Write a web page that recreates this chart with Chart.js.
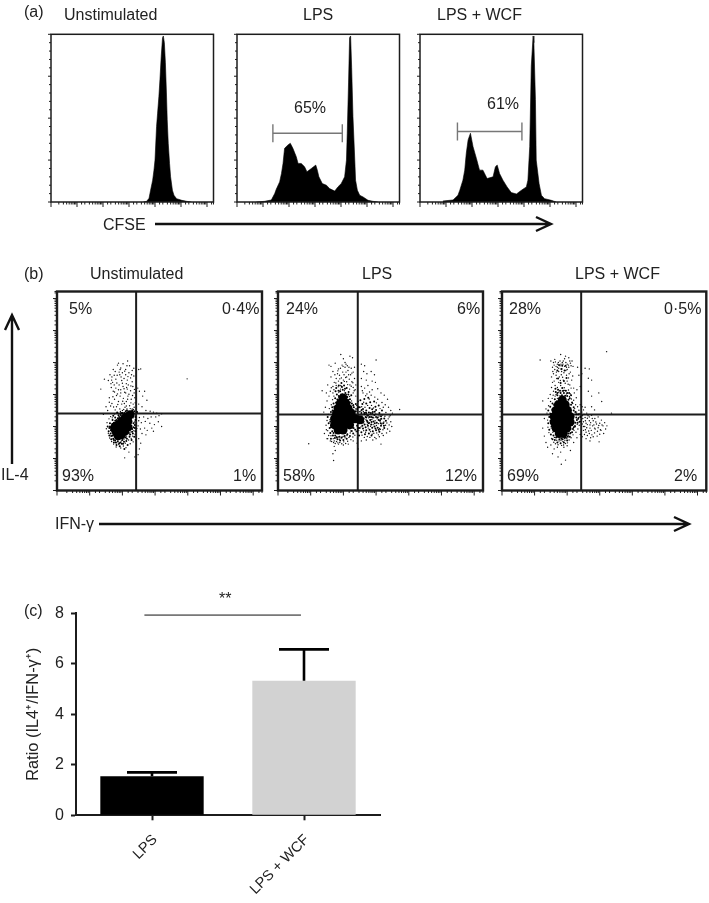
<!DOCTYPE html>
<html>
<head>
<meta charset="utf-8">
<title>CFSE, IL-4 / IFN-γ and ratio panels</title>
<script src="https://cdn.jsdelivr.net/npm/chart.js@4"></script>
<style>
    html, body { margin: 0; padding: 0; background: #fff; }
    #page { position: relative; width: 709px; height: 903px; overflow: hidden; font-family: "Liberation Sans", Arial, sans-serif; color: #222; }
    canvas { position: absolute; }
    svg { position: absolute; left: 0; top: 0; }
    .t { position: absolute; font-size: 16px; line-height: 18px; white-space: nowrap; }
</style>
</head>
<body>
<div id="page">
    <canvas id="histUnstim" width="176" height="180" style="left:43px;top:32px"></canvas>
    <canvas id="histLps" width="176" height="180" style="left:229.3px;top:32px"></canvas>
    <canvas id="histWcf" width="176" height="180" style="left:412.3px;top:32px"></canvas>
    <canvas id="dotUnstim" width="219" height="212" style="left:47.3px;top:289px"></canvas>
    <canvas id="dotLps" width="219" height="212" style="left:268.3px;top:289px"></canvas>
    <canvas id="dotWcf" width="217" height="212" style="left:491.7px;top:289px"></canvas>
    <canvas id="ratioBars" width="400" height="313" style="left:0;top:590px"></canvas>

    <svg width="709" height="903" fill="none" stroke="#111" stroke-width="2.4">
        <path d="M155 224H551M536 217L551 224L536 231"/>
        <path d="M12 464V316M5 330L12 315L19 330"/>
        <path d="M99 524H689M674 517L689 524L674 531"/>
    </svg>

    <div class="t" style="left:24px;top:3px">(a)</div>
    <div class="t" style="left:64px;top:6px">Unstimulated</div>
    <div class="t" style="left:303px;top:6px">LPS</div>
    <div class="t" style="left:437px;top:6px">LPS + WCF</div>
    <div class="t" style="left:294px;top:99px">65%</div>
    <div class="t" style="left:487px;top:95px">61%</div>
    <div class="t" style="left:103px;top:216px">CFSE</div>

    <div class="t" style="left:24px;top:265px">(b)</div>
    <div class="t" style="left:90px;top:265px">Unstimulated</div>
    <div class="t" style="left:362px;top:265px">LPS</div>
    <div class="t" style="left:575px;top:265px">LPS + WCF</div>
    <div class="t" style="left:69px;top:300px">5%</div>
    <div class="t" style="left:222px;top:300px">0·4%</div>
    <div class="t" style="left:62px;top:467px">93%</div>
    <div class="t" style="left:233px;top:467px">1%</div>
    <div class="t" style="left:286px;top:300px">24%</div>
    <div class="t" style="left:457px;top:300px">6%</div>
    <div class="t" style="left:283px;top:467px">58%</div>
    <div class="t" style="left:445px;top:467px">12%</div>
    <div class="t" style="left:509px;top:300px">28%</div>
    <div class="t" style="left:664px;top:300px">0·5%</div>
    <div class="t" style="left:507px;top:467px">69%</div>
    <div class="t" style="left:674px;top:467px">2%</div>
    <div class="t" style="left:1px;top:466px">IL-4</div>
    <div class="t" style="left:55px;top:515px">IFN-γ</div>

    <div class="t" style="left:24px;top:602px">(c)</div>
    <div class="t" style="left:219px;top:590px">**</div>
</div>

<script>
// CFSE histograms: channel position in log decades, height in % of tallest peak
const cfseUnstimDecade = [3.55, 3.68, 3.77, 3.83, 3.91, 3.96, 4.00, 4.06, 4.10, 4.15, 4.19, 4.24, 4.29, 4.32, 4.36, 4.40, 4.44, 4.47, 4.51, 4.56, 4.60, 4.67, 4.73, 4.83, 5.03, 5.22, 5.40];
const cfseUnstimCount = [0, 0.4, 2.2, 7, 13, 19, 25, 45, 53, 63, 73, 87, 98, 99, 95, 83, 65, 49, 35, 23, 15, 7, 4, 2, 1, 0.4, 0];

const cfseLpsDecade = [0.74, 1.06, 1.32, 1.45, 1.51, 1.64, 1.71, 1.77, 1.83, 1.96, 2.05, 2.15, 2.28, 2.35, 2.47, 2.60, 2.69, 2.86, 3.03, 3.09, 3.15, 3.28, 3.44, 3.56, 3.76, 3.88, 4.01, 4.14, 4.21, 4.24, 4.29, 4.33, 4.37, 4.41, 4.46, 4.53, 4.56, 4.63, 4.72, 4.85, 5.04, 5.23, 5.42];
const cfseLpsCount = [0, 0.4, 1.2, 5, 7.6, 12, 17, 23, 32, 34, 35, 32, 27, 23, 23, 21, 18, 20, 22, 19, 15, 11, 10, 8, 6.5, 9, 11, 15, 25, 41, 71, 98, 99, 80, 51, 25, 13, 7, 4, 3, 1, 0.4, 0];

const cfseWcfDecade = [0.88, 1.27, 1.46, 1.53, 1.65, 1.72, 1.78, 1.85, 1.94, 2.04, 2.17, 2.29, 2.42, 2.58, 2.81, 2.90, 2.97, 3.06, 3.19, 3.35, 3.51, 3.71, 3.90, 4.09, 4.15, 4.22, 4.28, 4.35, 4.38, 4.44, 4.47, 4.58, 4.67, 4.79, 5.05, 5.24];
const cfseWcfCount = [0.6, 1.2, 4, 7, 13, 19, 29, 37, 41, 33, 26, 19, 19, 14, 15, 21, 22, 17, 13, 9, 5.6, 4.8, 7, 9, 13, 33, 81, 99, 95, 61, 25, 11, 4, 2, 1, 0];

// Divided-cell gates: [from, to] in decades, and their height
const gateLpsDecades = [1.38, 4.05];
const gateLpsHeight = 41;
const gateWcfDecades = [1.44, 3.92];
const gateWcfHeight = 42;

// Quadrant cut-offs in decades, order: unstimulated, LPS, LPS + WCF
const ifnCutoffs = [2.42, 2.44, 2.43];
const il4Cutoffs = [2.41, 2.375, 2.375];

// Dot plots, [IFN-γ, IL-4] in decades. Core = solid mass, dense = crowded edge, sparse and grain = single cells
const unstimCore = [[1.76,1.95],[1.87,2.05],[1.97,2.16],[2.07,2.26],[2.17,2.31],[2.24,2.37],[1.87,1.85],[1.97,1.95],[2.07,2.05],[2.17,2.16],[1.97,1.74],[2.07,1.85],[2.17,1.98],[1.80,1.85],[1.87,1.71],[1.78,2.0],[1.85,1.78],[1.92,1.8]];
const unstimDense = [[1.55,2.0],[1.58,1.85],[1.62,2.1],[1.6,1.72],[1.66,1.6],[1.7,2.2],[1.74,1.5],[1.78,2.28],[1.82,1.42],[1.88,2.35],[1.92,1.38],[1.96,2.42],[2.02,1.46],[2.06,1.3],[2.12,1.55],[2.16,1.42],[2.22,1.68],[2.28,1.58],[2.32,1.78],[2.36,1.68],[2.38,1.95],[2.4,1.85],[2.34,2.1],[2.4,2.2],[1.66,1.7],[1.72,1.62],[1.78,1.56],[1.86,1.54],[1.94,1.5],[1.65,1.88],[1.68,2.02],[2.0,1.58],[2.1,1.66],[2.2,1.8],[2.3,1.92],[2.38,2.05],[1.74,2.12],[1.82,2.2],[1.9,2.3],[2.0,2.42],[2.1,2.48],[2.18,2.42],[2.28,2.44],[2.36,2.48],[1.72,2.34],[1.84,2.44],[2.45,2.45],[1.7,1.72],[1.74,1.58],[1.64,1.78],[1.6,1.95],[1.62,2.0],[1.8,1.5],[1.9,1.48],[1.98,1.46],[2.05,1.52],[2.14,1.62],[2.24,1.75],[2.3,1.84],[2.34,1.98],[1.7,2.08],[1.78,2.18],[1.86,2.26],[1.94,2.36],[2.06,2.42],[2.14,2.5],[2.3,2.5],[2.4,2.3]];
const unstimSparse = [[1.34,3.17],[1.57,3.44],[1.45,3.48],[1.62,3.62],[1.68,3.55],[1.72,3.78],[1.78,3.72],[1.85,3.92],[1.88,3.98],[1.95,3.83],[2.02,3.96],[2.1,3.78],[2.16,4.05],[2.22,3.9],[2.3,3.75],[2.35,3.82],[1.7,3.38],[1.75,3.3],[1.8,3.48],[1.84,3.6],[1.9,3.7],[1.96,3.55],[2.0,3.68],[2.05,3.5],[2.1,3.62],[2.15,3.45],[2.2,3.68],[2.25,3.52],[2.3,3.4],[2.35,3.58],[1.66,3.22],[1.72,3.1],[1.8,3.2],[1.85,3.02],[1.9,3.3],[1.95,3.15],[2.0,3.35],[2.05,3.18],[2.1,3.05],[2.13,3.22],[2.18,3.3],[2.25,3.12],[2.32,3.25],[2.36,3.05],[1.6,2.9],[1.68,2.72],[1.76,2.85],[1.82,2.62],[1.88,2.78],[1.93,2.95],[1.98,2.7],[2.03,2.88],[2.08,2.6],[2.12,2.78],[2.17,2.95],[2.22,2.65],[2.27,2.85],[2.33,2.7],[2.38,2.9],[1.92,2.55],[2.0,2.5],[2.06,2.72],[2.14,2.55],[2.2,2.48],[2.3,2.55],[2.36,2.6],[1.78,2.52],[1.42,2.38],[1.5,2.62],[1.55,2.5],[2.5,3.78],[2.56,3.8],[2.47,3.2],[2.52,3.1],[2.68,3.1],[2.62,2.95],[2.75,2.82],[2.5,2.7],[2.6,2.62],[2.72,2.5],[2.85,2.48],[2.95,2.45],[3.05,2.42],[3.12,2.34],[3.02,2.3],[3.2,2.4],[2.88,2.3],[2.78,2.25],[2.65,2.3],[2.52,2.28],[2.5,2.18],[2.58,2.12],[2.7,2.16],[2.84,2.1],[2.98,2.06],[3.1,2.15],[3.2,2.0],[2.48,2.02],[2.55,1.92],[2.68,1.95],[2.76,1.88],[2.9,1.95],[2.95,1.85],[2.6,1.78],[2.72,1.74],[2.5,1.62],[2.56,1.48],[2.52,1.3],[2.48,1.12],[2.38,1.05],[2.2,1.2],[2.07,1.02],[3.98,3.49]];
const unstimGrain = [[1.51,1.93],[1.53,2.12],[1.57,1.79],[1.59,2.24],[1.61,1.64],[1.63,1.97],[1.64,2.31],[1.67,1.53],[1.69,2.27],[1.71,1.71],[1.73,1.45],[1.76,2.39],[1.79,1.62],[1.81,1.36],[1.83,1.49],[1.86,2.42],[1.89,1.44],[1.91,1.6],[1.95,1.33],[1.97,1.55],[1.99,2.37],[2.03,1.39],[2.05,1.61],[2.09,1.48],[2.11,1.34],[2.13,1.7],[2.15,2.44],[2.19,1.58],[2.21,1.74],[2.24,1.46],[2.26,1.83],[2.27,1.63],[2.29,2.02],[2.31,1.7],[2.33,1.52],[2.35,1.87],[2.37,2.14],[2.39,1.76],[2.42,1.58],[2.44,1.94],[2.33,2.27],[2.41,2.36],[2.29,2.37],[2.43,2.11],[1.94,2.47],[2.04,2.53],[2.12,2.64],[2.24,2.56],[2.34,2.53],[2.39,2.74],[2.26,2.74],[2.16,2.85],[2.01,2.79],[1.86,2.69],[1.73,2.61],[1.64,2.64],[1.6,2.76],[1.71,2.93],[1.82,2.97],[1.95,3.05],[2.07,3.07],[2.2,3.01],[2.31,2.97],[2.37,3.16],[2.26,3.27],[2.15,3.17],[2.02,3.25],[1.88,3.15],[1.76,3.08],[1.65,3.34],[1.83,3.36],[1.98,3.44],[2.12,3.34],[2.28,3.62],[2.17,3.56],[2.07,3.73],[1.92,3.62],[1.75,3.6],[1.67,3.45],[1.93,3.78],[2.14,3.9]];

const lpsCore = [[1.99,2.89],[1.91,2.73],[2.07,2.73],[1.84,2.57],[1.99,2.57],[2.14,2.57],[1.79,2.42],[1.94,2.42],[2.09,2.42],[2.24,2.42],[1.73,2.24],[1.89,2.24],[2.04,2.24],[2.19,2.24],[2.35,2.24],[1.73,2.05],[1.89,2.05],[2.04,2.05],[2.19,2.05],[1.84,1.89],[1.99,1.89],[2.5,2.21]];
const lpsDense = [[2.5,2.6],[2.6,2.55],[2.7,2.5],[2.8,2.58],[2.9,2.45],[3.0,2.52],[3.1,2.42],[3.18,2.5],[2.55,2.42],[2.65,2.38],[2.75,2.34],[2.85,2.3],[2.95,2.36],[3.05,2.28],[3.15,2.32],[3.25,2.25],[2.52,2.3],[2.62,2.25],[2.72,2.18],[2.82,2.2],[2.92,2.16],[3.02,2.12],[3.12,2.18],[3.22,2.1],[3.3,2.18],[2.55,2.1],[2.65,2.06],[2.75,2.02],[2.85,2.06],[2.95,2.0],[3.05,1.96],[3.15,2.02],[3.25,1.95],[2.6,1.94],[2.7,1.88],[2.8,1.9],[2.9,1.85],[3.0,1.88],[3.1,1.84],[2.55,1.82],[2.66,1.76],[2.78,1.78],[2.86,1.72],[2.48,1.72],[2.5,1.95],[2.58,2.18],[2.68,2.3],[2.78,2.44],[2.88,2.54],[2.98,2.62],[3.08,2.66],[2.58,2.7],[2.7,2.72],[2.82,2.76],[2.94,2.78],[2.52,2.82],[2.64,2.86],[2.76,2.9],[1.52,2.3],[1.55,2.1],[1.58,1.95],[1.6,1.8],[1.62,2.45],[1.66,2.6],[1.7,2.72],[1.75,2.88],[1.8,3.0],[1.86,2.95],[1.9,3.1],[1.98,3.15],[2.06,3.05],[2.12,2.92],[2.2,2.85],[2.26,2.72],[2.32,2.6],[2.38,2.48],[1.68,1.72],[1.74,1.64],[1.82,1.6],[1.9,1.56],[2.0,1.58],[2.1,1.62],[2.2,1.7],[2.3,1.78],[2.36,1.9],[2.42,2.02],[1.62,1.62],[1.78,3.2],[1.86,3.28],[1.94,3.36],[2.02,3.28],[2.1,3.2],[2.16,3.08],[2.24,2.98],[1.6,2.15],[1.62,1.98],[1.64,2.3],[1.66,1.85],[1.67,2.5],[1.7,1.8],[1.72,2.62],[1.75,1.72],[1.78,2.75],[1.8,1.66],[1.82,2.84],[1.87,2.9],[1.88,1.68],[1.93,3.0],[1.95,1.66],[2.03,2.96],[2.04,1.7],[2.12,1.76],[2.13,2.82],[2.2,2.75],[2.24,1.86],[2.3,2.66],[2.3,1.95],[2.38,2.7],[2.42,2.55],[2.42,1.85],[2.46,1.95],[2.46,2.6],[1.95,3.24],[1.85,3.12],[2.05,3.18],[1.76,3.1],[2.15,3.0],[2.56,2.26],[2.6,2.12],[2.64,2.42],[2.7,2.28],[2.74,2.14],[2.8,2.3],[2.86,2.14],[2.9,2.28],[2.96,2.1],[3.0,2.3],[3.08,2.2],[3.14,2.1],[2.58,2.02],[2.68,1.98],[2.78,2.1],[2.88,1.96],[2.98,1.94],[3.08,1.9],[2.7,2.42],[2.84,2.42],[2.56,2.52],[2.96,2.46],[3.16,2.24],[3.24,2.02]];
const lpsSparse = [[1.56,3.92],[1.62,3.88],[1.68,3.72],[1.52,3.3],[1.62,3.55],[1.75,3.98],[1.85,3.8],[1.92,4.25],[2.0,4.12],[2.05,4.0],[2.12,3.9],[2.2,4.2],[2.28,4.15],[2.34,3.85],[2.3,3.7],[2.22,3.62],[2.14,3.75],[2.05,3.85],[1.98,3.7],[1.88,3.6],[1.78,3.5],[1.72,3.38],[1.68,3.25],[1.78,3.28],[1.85,3.42],[1.94,3.52],[2.02,3.62],[2.1,3.55],[2.18,3.48],[2.26,3.4],[2.34,3.5],[2.38,3.3],[2.3,3.22],[2.2,3.3],[2.1,3.4],[2.0,3.45],[1.92,3.28],[1.82,3.65],[1.96,3.92],[2.08,3.7],[2.16,3.62],[2.24,3.82],[1.6,3.1],[1.56,2.95],[1.5,2.8],[1.45,2.6],[1.4,2.45],[1.48,3.05],[1.35,3.12],[1.68,3.05],[2.3,3.05],[2.38,2.95],[2.36,3.15],[2.55,3.95],[2.65,3.9],[2.62,3.72],[2.72,3.65],[2.85,3.72],[2.95,3.62],[3.0,4.08],[2.55,3.5],[2.7,3.45],[2.88,3.42],[2.98,3.38],[2.55,3.25],[2.65,3.2],[2.75,3.28],[2.88,3.15],[3.05,3.18],[3.15,3.05],[3.25,2.98],[3.35,2.85],[2.6,3.05],[2.72,3.02],[2.85,2.98],[2.96,2.92],[3.05,2.85],[3.18,2.75],[3.28,2.68],[3.38,2.6],[3.45,2.5],[3.5,2.42],[3.72,2.53],[3.4,2.3],[3.45,2.15],[3.48,2.0],[3.42,1.85],[3.32,1.8],[3.22,1.72],[3.1,1.68],[3.0,1.62],[2.9,1.58],[2.7,1.58],[2.55,1.55],[2.42,1.48],[2.3,1.55],[2.15,1.45],[2.0,1.42],[1.85,1.45],[1.7,1.5],[1.6,1.55],[1.52,1.62],[1.42,1.78],[1.48,1.9],[1.5,1.62],[1.75,1.25],[1.68,1.15],[1.72,1.38],[2.45,1.3],[3.15,1.45],[0.94,1.46],[1.7,0.94]];
const lpsGrain = [[1.47,2.04],[1.5,2.19],[1.52,1.87],[1.54,2.38],[1.55,1.72],[1.57,2.56],[1.59,2.21],[1.61,2.03],[1.62,1.71],[1.63,2.68],[1.64,1.53],[1.66,2.36],[1.67,2.84],[1.69,1.62],[1.71,2.95],[1.72,1.55],[1.73,2.56],[1.75,1.47],[1.76,2.74],[1.78,1.68],[1.79,1.53],[1.81,2.85],[1.83,1.49],[1.84,1.67],[1.86,3.06],[1.88,1.6],[1.89,1.5],[1.91,3.17],[1.93,1.64],[1.95,1.46],[1.97,3.02],[1.99,1.69],[2.01,1.52],[2.03,3.12],[2.05,1.65],[2.07,1.47],[2.09,3.0],[2.11,1.72],[2.13,1.54],[2.15,2.84],[2.17,1.66],[2.19,2.94],[2.21,1.8],[2.23,1.59],[2.25,2.8],[2.27,1.86],[2.29,1.67],[2.31,2.68],[2.33,1.95],[2.35,1.73],[2.37,2.55],[2.39,1.84],[2.41,2.66],[2.43,1.64],[2.45,2.36],[2.46,2.78],[2.47,1.88],[2.49,2.46],[2.51,2.12],[1.63,3.21],[1.71,3.15],[1.77,3.36],[1.84,3.24],[1.89,3.49],[1.96,3.23],[2.03,3.41],[2.07,3.53],[2.13,3.31],[2.19,3.17],[2.24,3.26],[2.29,3.37],[2.33,3.12],[1.74,3.62],[1.83,3.74],[1.91,3.82],[1.99,3.88],[2.08,3.95],[2.17,3.85],[2.26,3.67],[2.53,2.48],[2.57,2.33],[2.61,2.47],[2.63,2.15],[2.67,2.44],[2.69,2.21],[2.71,2.36],[2.73,2.07],[2.77,2.27],[2.79,2.12],[2.81,2.38],[2.83,2.01],[2.87,2.22],[2.89,2.41],[2.91,2.06],[2.93,2.27],[2.97,2.18],[2.99,2.39],[3.01,2.03],[3.03,2.24],[3.07,2.09],[3.09,2.33],[3.11,1.94],[3.13,2.23],[3.17,2.08],[3.19,2.36],[3.21,1.9],[3.24,2.14],[3.27,2.32],[3.29,2.04],[3.33,2.11],[3.35,1.92],[3.37,2.24],[3.4,2.05],[3.43,2.34],[2.54,1.99],[2.57,1.73],[2.62,1.87],[2.64,1.66],[2.68,1.82],[2.73,1.69],[2.76,1.95],[2.81,1.66],[2.83,1.84],[2.88,1.76],[2.93,1.79],[2.96,1.66],[3.02,1.8],[3.07,1.74],[3.13,1.91],[3.18,1.78],[2.56,2.62],[2.62,2.76],[2.66,2.6],[2.74,2.66],[2.79,2.86],[2.86,2.66],[2.92,2.58],[3.01,2.74],[3.12,2.56],[3.22,2.6],[3.3,2.44],[2.68,2.96],[2.58,3.12],[2.8,3.08]];

const wcfCore = [[1.85,2.83],[1.73,2.68],[1.94,2.68],[1.66,2.50],[1.83,2.50],[2.01,2.50],[1.60,2.31],[1.76,2.31],[1.92,2.31],[2.09,2.31],[1.60,2.14],[1.76,2.14],[1.92,2.14],[2.09,2.14],[1.66,1.95],[1.83,1.95],[1.99,1.95],[1.76,1.78],[1.88,1.78]];
const wcfDense = [[1.42,2.5],[1.45,2.3],[1.42,2.1],[1.45,1.9],[1.5,1.75],[1.55,1.6],[1.62,1.58],[1.7,1.5],[1.8,1.48],[1.9,1.5],[2.0,1.56],[2.08,1.68],[2.15,1.82],[2.2,1.98],[2.25,2.12],[2.28,2.28],[2.25,2.45],[2.2,2.6],[2.15,2.75],[2.08,2.88],[2.0,2.95],[1.9,3.05],[1.8,3.05],[1.7,2.98],[1.62,2.85],[1.55,2.72],[1.48,2.62],[1.96,3.12],[1.85,3.2],[1.72,3.15],[1.65,3.08],[2.06,3.05],[2.12,2.98],[1.58,1.72],[1.66,1.66],[1.76,1.6],[1.86,1.6],[1.96,1.66],[2.04,1.78],[2.3,2.2],[2.34,2.38],[2.38,2.15],[2.4,2.3],[1.5,2.4],[1.5,2.15],[1.52,2.0],[1.55,2.55],[1.58,1.88],[1.6,2.68],[1.65,1.76],[1.68,2.78],[1.72,1.68],[1.76,2.88],[1.82,1.62],[1.84,2.98],[1.92,1.64],[1.94,2.96],[2.02,1.68],[2.04,2.84],[2.1,1.8],[2.12,2.68],[2.18,1.92],[2.2,2.5],[2.24,2.0],[2.28,2.38],[2.32,2.12],[2.34,2.24],[1.88,3.12],[1.78,3.12],[2.0,3.05],[1.7,3.05],[1.64,3.18],[1.8,3.36],[1.9,3.42],[1.72,3.5],[1.98,3.52],[1.75,3.92],[1.85,3.9],[1.95,3.9],[1.7,3.75],[1.82,3.8],[1.92,3.75]];
const wcfSparse = [[1.5,4.05],[1.58,4.0],[1.62,4.1],[1.7,3.95],[1.78,4.05],[1.85,4.0],[1.92,4.12],[2.0,3.95],[2.08,4.05],[2.12,3.9],[1.55,3.85],[1.62,3.78],[1.7,3.85],[1.78,3.9],[1.84,3.8],[1.92,3.88],[2.0,3.78],[2.05,3.85],[2.1,3.7],[1.58,3.65],[1.66,3.6],[1.74,3.72],[1.82,3.62],[1.9,3.68],[1.98,3.6],[2.04,3.52],[1.6,3.42],[1.68,3.5],[1.74,3.38],[1.8,3.28],[1.88,3.45],[1.94,3.35],[2.0,3.42],[2.08,3.3],[2.14,3.45],[2.2,3.2],[1.52,3.22],[1.58,3.1],[1.48,3.0],[1.42,2.88],[2.22,3.05],[2.28,2.9],[2.3,3.15],[2.36,3.6],[2.32,3.85],[1.8,4.25],[1.95,4.2],[2.05,4.15],[2.15,4.05],[1.17,4.08],[3.21,4.34],[2.68,3.8],[2.55,3.82],[2.45,3.65],[2.65,3.51],[2.75,3.45],[2.65,3.1],[2.75,2.95],[2.97,3.05],[2.4,3.25],[2.4,2.68],[2.55,2.6],[2.75,2.62],[3.06,2.78],[2.45,2.45],[2.52,2.38],[2.6,2.42],[2.68,2.3],[2.75,2.35],[2.85,2.25],[2.95,2.3],[3.05,2.2],[3.15,2.12],[3.22,2.02],[2.48,2.25],[2.56,2.18],[2.62,2.26],[2.72,2.12],[2.8,2.18],[2.9,2.08],[3.0,2.1],[3.1,2.02],[3.18,1.92],[2.46,2.08],[2.54,2.0],[2.62,2.06],[2.7,1.95],[2.78,2.02],[2.86,1.92],[2.95,1.96],[3.04,1.88],[3.12,1.78],[2.5,1.88],[2.58,1.82],[2.66,1.86],[2.76,1.74],[2.84,1.8],[2.92,1.7],[3.0,1.76],[2.46,1.68],[2.58,1.62],[2.7,1.55],[2.98,1.52],[3.36,2.42],[2.84,2.52],[1.25,1.95],[1.3,1.7],[1.35,1.5],[1.4,1.35],[1.5,1.42],[1.6,1.3],[1.7,1.35],[1.8,1.2],[1.9,1.35],[2.0,1.4],[2.1,1.25],[1.72,1.05],[1.55,1.15],[1.95,0.95],[1.82,0.82],[2.2,1.5],[2.3,1.65],[2.4,1.75],[1.3,2.25],[1.35,2.55],[1.25,2.8]];
const wcfGrain = [[1.38,2.42],[1.4,2.2],[1.41,1.98],[1.43,2.65],[1.44,1.81],[1.47,2.42],[1.48,2.18],[1.49,2.78],[1.51,1.95],[1.52,1.63],[1.53,2.52],[1.54,2.88],[1.56,1.82],[1.57,2.98],[1.59,1.51],[1.6,2.65],[1.61,1.66],[1.63,2.95],[1.64,1.46],[1.66,3.0],[1.68,1.57],[1.7,2.88],[1.72,1.43],[1.74,3.07],[1.75,1.55],[1.78,2.96],[1.81,1.56],[1.83,1.41],[1.85,3.11],[1.87,1.53],[1.89,1.42],[1.92,3.13],[1.93,1.57],[1.95,1.47],[1.98,3.02],[1.99,1.62],[2.01,1.49],[2.03,1.72],[2.04,3.14],[2.06,1.58],[2.07,2.94],[2.09,1.77],[2.1,3.02],[2.12,1.65],[2.13,2.86],[2.15,1.92],[2.17,2.72],[2.18,1.74],[2.2,2.82],[2.21,1.88],[2.23,2.56],[2.24,2.03],[2.26,2.68],[2.27,1.82],[2.29,2.45],[2.31,2.07],[2.32,2.62],[2.33,1.92],[2.35,2.28],[2.36,2.51],[2.37,2.04],[2.39,2.41],[2.41,2.16],[2.43,2.36],[2.44,2.22],[1.55,3.38],[1.63,3.28],[1.7,3.22],[1.67,3.7],[1.76,3.55],[1.79,3.44],[1.86,3.54],[1.91,3.21],[1.96,3.75],[2.03,3.32],[2.06,3.65],[2.12,3.2],[2.17,3.58],[1.73,4.0],[1.81,3.95],[1.88,4.05],[1.96,4.0],[2.04,3.92],[1.66,3.88],[1.74,3.82],[1.83,3.72],[1.87,3.95],[1.6,3.92],[1.64,4.02],[1.98,3.85],[2.1,3.98],[2.18,3.88],[1.56,3.72],[1.52,3.55],[2.47,2.34],[2.5,2.15],[2.55,2.28],[2.58,2.1],[2.6,1.96],[2.64,2.34],[2.68,2.18],[2.7,2.05],[2.74,1.88],[2.77,2.25],[2.82,2.05],[2.84,1.95],[2.88,2.14],[2.93,1.85],[2.97,2.03],[3.02,1.9],[3.07,2.05],[2.5,2.0],[2.53,1.75],[2.56,1.9],[2.62,1.72],[2.68,1.78],[2.72,1.65],[2.8,1.68],[2.5,2.52],[2.46,2.62]];

// Ratio bars
const ratioLabels = ['LPS', 'LPS + WCF'];
const ratioValues = [1.55, 5.33];
const ratioErrorTops = [1.70, 6.57];
const sigLineX = [0.45, 1.48];
const sigLineY = 7.93;

const inkColor = '#1c1c1c';

Chart.defaults.font.family = '"Liberation Sans", Arial, sans-serif';
Chart.defaults.color = '#222';

// Panel border plus tick marks of two lengths
const panelFrame = {
    id: 'panelFrame',
    afterDatasetsDraw(chart, args, opts) {
        const ctx = chart.ctx;
        const area = chart.chartArea;
        ctx.save();
        ctx.strokeStyle = inkColor;
        ctx.lineWidth = opts.tickWidth;
        chart.scales.x.ticks.forEach(function(tick) {
            const px = chart.scales.x.getPixelForValue(tick.value);
            const len = isDecade(tick.value) ? opts.xMajor : opts.xMinor;
            ctx.beginPath();
            ctx.moveTo(px, area.bottom);
            ctx.lineTo(px, area.bottom + len);
            ctx.stroke();
        });
        chart.scales.y.ticks.forEach(function(tick) {
            const py = chart.scales.y.getPixelForValue(tick.value);
            const major = chart.scales.y.type === 'logarithmic' ? isDecade(tick.value) : tick.value % 25 === 0;
            const len = major ? opts.yMajor : opts.yMinor;
            ctx.beginPath();
            ctx.moveTo(area.left, py);
            ctx.lineTo(area.left - len, py);
            ctx.stroke();
        });
        ctx.lineWidth = opts.frameWidth;
        ctx.strokeRect(area.left, area.top, area.right - area.left, area.bottom - area.top);
        ctx.restore();
    }
};

function isDecade(value) {
    const exp = Math.log10(value);
    return Math.abs(exp - Math.round(exp)) < 1e-6;
}

function hiddenAxis(type, min, max, extra) {
    return Object.assign({
        type: type,
        min: min,
        max: max,
        grid: { display: false, drawTicks: false },
        border: { display: false },
        ticks: { display: false, autoSkip: false }
    }, extra);
}

function toDecadePoints(pairs) {
    return pairs.map(function(p) {
        return { x: Math.pow(10, p[0]), y: Math.pow(10, p[1]) };
    });
}

// Histogram panels
function drawHistogram(canvasId, decades, counts, gateDecades, gateHeight) {
    const datasets = [{
        data: decades.map(function(d, i) { return { x: Math.pow(10, d), y: counts[i] }; }),
        showLine: true,
        fill: 'origin',
        backgroundColor: '#000',
        borderColor: '#000',
        borderWidth: 0.6,
        pointRadius: 0
    }];
    if (gateDecades) {
        datasets.push({
            data: gateDecades.map(function(d) { return { x: Math.pow(10, d), y: gateHeight }; }),
            showLine: true,
            borderColor: '#777',
            borderWidth: 1.4,
            pointStyle: 'line',
            rotation: 90,
            pointRadius: 9,
            pointBorderColor: '#777',
            pointBorderWidth: 1.4
        });
    }
    return new Chart(document.getElementById(canvasId), {
        type: 'scatter',
        data: { datasets: datasets },
        options: {
            responsive: false,
            animation: false,
            layout: { autoPadding: false, padding: { left: 8, right: 5.5, top: 2.3, bottom: 10 } },
            plugins: {
                legend: { display: false },
                tooltip: { enabled: false },
                panelFrame: { frameWidth: 1.5, tickWidth: 1, xMajor: 5, xMinor: 2.5, yMajor: 3, yMinor: 2 }
            },
            scales: {
                x: hiddenAxis('logarithmic', 1, Math.pow(10, 6.25)),
                y: hiddenAxis('linear', 0, 100, { ticks: { display: false, stepSize: 5, autoSkip: false } })
            }
        },
        plugins: [panelFrame]
    });
}

drawHistogram('histUnstim', cfseUnstimDecade, cfseUnstimCount);
drawHistogram('histLps', cfseLpsDecade, cfseLpsCount, gateLpsDecades, gateLpsHeight);
drawHistogram('histWcf', cfseWcfDecade, cfseWcfCount, gateWcfDecades, gateWcfHeight);

// Dot plot panels
function drawDotPlot(canvasId, core, dense, sparse, grain, ifnCut, il4Cut, pad) {
    const xMax = Math.pow(10, 6.27);
    const yMax = Math.pow(10, 6.22);
    return new Chart(document.getElementById(canvasId), {
        type: 'scatter',
        data: {
            datasets: [
                { data: toDecadePoints(core), pointRadius: 4.5, pointBorderWidth: 0, backgroundColor: '#000' },
                { data: toDecadePoints(dense), pointRadius: 1, pointBorderWidth: 0, backgroundColor: '#000' },
                { data: toDecadePoints(sparse), pointRadius: 0.7, pointBorderWidth: 0, backgroundColor: '#111' },
                { data: toDecadePoints(grain), pointRadius: 0.7, pointBorderWidth: 0, backgroundColor: '#111' },
                {
                    data: [{ x: Math.pow(10, ifnCut), y: 1 }, { x: Math.pow(10, ifnCut), y: yMax }],
                    showLine: true, borderColor: inkColor, borderWidth: 2, pointRadius: 0
                },
                {
                    data: [{ x: 1, y: Math.pow(10, il4Cut) }, { x: xMax, y: Math.pow(10, il4Cut) }],
                    showLine: true, borderColor: inkColor, borderWidth: 2, pointRadius: 0
                }
            ]
        },
        options: {
            responsive: false,
            animation: false,
            layout: { autoPadding: false, padding: pad },
            plugins: {
                legend: { display: false },
                tooltip: { enabled: false },
                panelFrame: { frameWidth: 2.4, tickWidth: 1, xMajor: 5, xMinor: 2.5, yMajor: 4, yMinor: 2.5 }
            },
            scales: {
                x: hiddenAxis('logarithmic', 1, xMax),
                y: hiddenAxis('logarithmic', 1, yMax)
            }
        },
        plugins: [panelFrame]
    });
}

drawDotPlot('dotUnstim', unstimCore, unstimDense, unstimSparse, unstimGrain, ifnCutoffs[0], il4Cutoffs[0], { left: 10, right: 4, top: 2.5, bottom: 10.5 });
drawDotPlot('dotLps', lpsCore, lpsDense, lpsSparse, lpsGrain, ifnCutoffs[1], il4Cutoffs[1], { left: 10, right: 4, top: 2.5, bottom: 10.5 });
drawDotPlot('dotWcf', wcfCore, wcfDense, wcfSparse, wcfGrain, ifnCutoffs[2], il4Cutoffs[2], { left: 10, right: 2.7, top: 2.5, bottom: 10.5 });

// Error bars for the ratio chart
const errorBars = {
    id: 'errorBars',
    afterDatasetsDraw(chart) {
        const ctx = chart.ctx;
        const meta = chart.getDatasetMeta(0);
        const y = chart.scales.y;
        ctx.save();
        ctx.strokeStyle = '#000';
        ctx.lineWidth = 2.6;
        meta.data.forEach(function(bar, i) {
            const top = y.getPixelForValue(ratioErrorTops[i]);
            ctx.beginPath();
            ctx.moveTo(bar.x, y.getPixelForValue(ratioValues[i]));
            ctx.lineTo(bar.x, top);
            ctx.moveTo(bar.x - 25, top);
            ctx.lineTo(bar.x + 25, top);
            ctx.stroke();
        });
        ctx.restore();
    }
};

new Chart(document.getElementById('ratioBars'), {
    type: 'bar',
    data: {
        labels: ratioLabels,
        datasets: [{
            data: ratioValues,
            backgroundColor: ['#000', '#d2d2d2'],
            categoryPercentage: 1,
            barPercentage: 0.68,
            grouped: false
        }, {
            type: 'scatter',
            xAxisID: 'xSig',
            data: sigLineX.map(function(x) { return { x: x, y: sigLineY }; }),
            showLine: true,
            borderColor: '#111',
            borderWidth: 1,
            pointRadius: 0
        }]
    },
    options: {
        responsive: false,
        animation: false,
        layout: { autoPadding: false, padding: { left: 0, right: 20, top: 23.3, bottom: 0 } },
        plugins: { legend: { display: false }, tooltip: { enabled: false } },
        scales: {
            x: {
                offset: true,
                grid: { offset: false, drawOnChartArea: false, tickLength: 5, tickWidth: 2, tickColor: inkColor },
                border: { color: inkColor, width: 2 },
                ticks: { font: { size: 14.5 }, color: '#222', minRotation: 45, maxRotation: 45, padding: 11, labelOffset: 3 },
                afterFit: function(scale) { scale.height = 87.7; }
            },
            xSig: { type: 'linear', axis: 'x', display: false, offset: false, min: 0, max: 2 },
            y: {
                min: 0,
                max: 8,
                grid: { drawOnChartArea: false, tickLength: 5, tickWidth: 2, tickColor: inkColor },
                border: { color: inkColor, width: 2 },
                ticks: { stepSize: 2, font: { size: 16 }, color: '#222', padding: 7 },
                title: { display: true, text: 'Ratio (IL4⁺/IFN-γ⁺)', font: { size: 16.4 }, color: '#222', padding: { top: 24, bottom: 0 } },
                afterFit: function(scale) { scale.width = 76; }
            }
        }
    },
    plugins: [errorBars]
});
</script>
</body>
</html>
